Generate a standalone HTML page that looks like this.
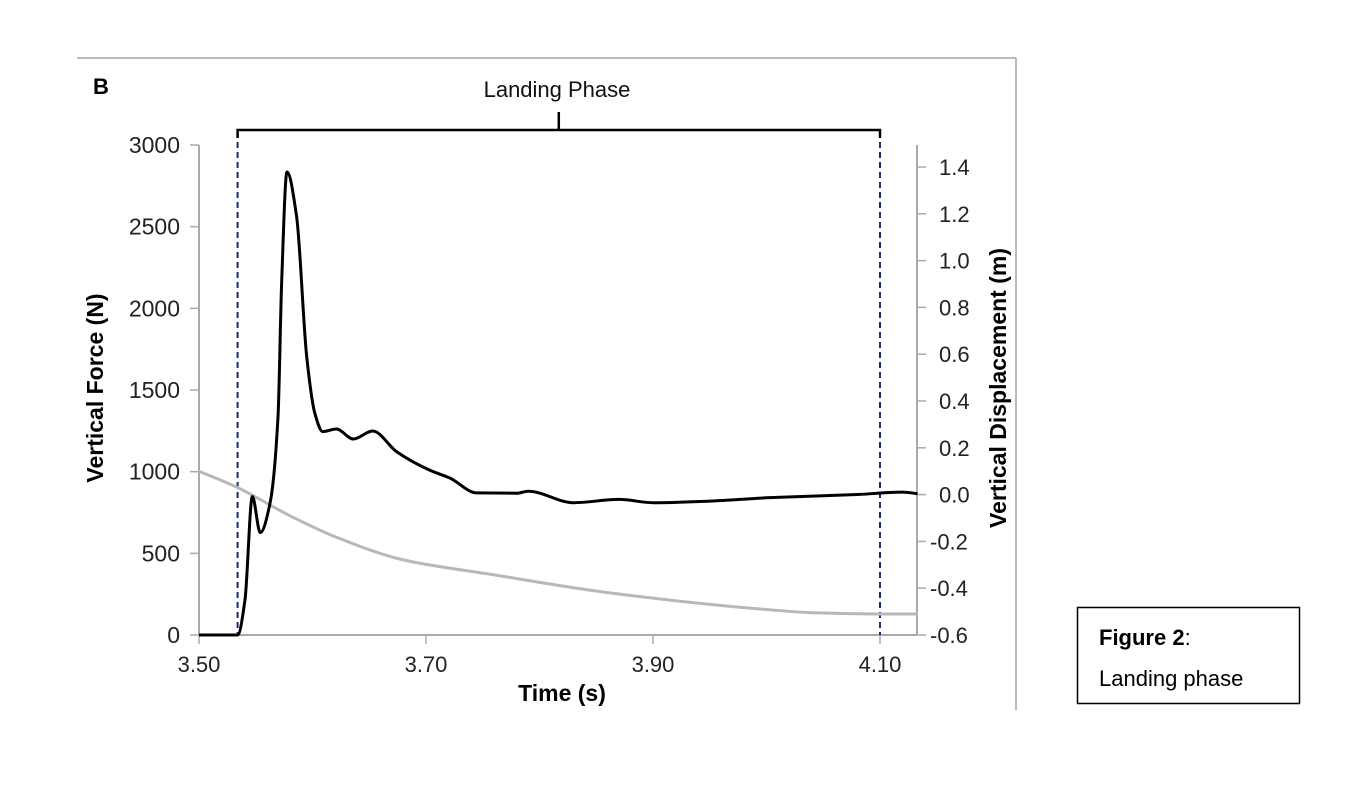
<!DOCTYPE html>
<html><head><meta charset="utf-8"><style>
body{margin:0;background:#fff;}
svg text{font-family:"Liberation Sans",Arial,sans-serif;}
</style></head><body>
<svg width="1370" height="798" xmlns="http://www.w3.org/2000/svg">
<g id="frame">
<line x1="77" y1="58" x2="1016" y2="58" stroke="#bbb" stroke-width="2"/>
<line x1="1016" y1="58" x2="1016" y2="710" stroke="#bbb" stroke-width="2"/>
</g>
<text x="93" y="94" font-size="22" font-weight="bold">B</text>
<text x="557" y="97" font-size="22" text-anchor="middle" fill="#111">Landing Phase</text>
<g id="axes"></g>
<g id="series"></g>
<text transform="translate(103,388) rotate(-90)" font-size="23" font-weight="bold" text-anchor="middle">Vertical Force (N)</text>
<text transform="translate(1006,388) rotate(-90)" font-size="23" font-weight="bold" text-anchor="middle">Vertical Displacement (m)</text>
<text x="562" y="701" font-size="23" font-weight="bold" text-anchor="middle">Time (s)</text>
<g>
<rect x="1077.5" y="607.5" width="222" height="96" fill="none" stroke="#000" stroke-width="1.5"/>
<text x="1099" y="645" font-size="22" font-family="Calibri,'Liberation Sans',sans-serif"><tspan font-weight="bold">Figure 2</tspan>:</text>
<text x="1099" y="686" font-size="22">Landing phase</text>
</g>
</svg>
<script>
const xTicks=[3.50,3.70,3.90,4.10];
const xTickLabels=["3.50","3.70","3.90","4.10"];
const forceTicks=[0,500,1000,1500,2000,2500,3000];
const dispTicks=[-0.6,-0.4,-0.2,0.0,0.2,0.4,0.6,0.8,1.0,1.2,1.4];
const phaseBounds=[3.534,4.10];
const forceTime=[3.50,3.534,3.5405,3.547,3.554,3.5626,3.5696,3.5728,3.5775,3.586,3.5949,3.602,3.609,3.621,3.636,3.653,3.674,3.703,3.721,3.7447,3.78,3.79,3.83,3.87,3.90,3.95,4.00,4.08,4.12,4.133];
const forceVals=[0,0,214,847,627,808,1335,2155,2835,2562,1704,1359,1245,1261,1200,1249,1123,1010,961,870,868,880,810,830,810,820,840,860,875,865];
const dispTime=[3.50,3.534,3.58,3.62,3.681,3.756,3.862,3.997,4.042,4.10,4.133];
const dispVals=[0.10,0.03,-0.09,-0.18,-0.28,-0.34,-0.42,-0.49,-0.505,-0.51,-0.51];

const NS="http://www.w3.org/2000/svg";
const X0=199,X1=917,T0=3.50,PXS=1135;
const x=t=>X0+(t-T0)*PXS;
const yF=v=>635-v*0.16333;
const yD=v=>635-(v+0.6)*234;
function mk(tag,attrs,parent){const e=document.createElementNS(NS,tag);for(const k in attrs)e.setAttribute(k,attrs[k]);parent.appendChild(e);return e;}
const ax=document.getElementById('axes'),se=document.getElementById('series');
let e;
e=mk('line',{x1:X0,y1:145,x2:X0,y2:635,stroke:'#aaa','stroke-width':2},ax);


e=mk('line',{x1:X1,y1:145,x2:X1,y2:635,stroke:'#aaa','stroke-width':2},ax);


e=mk('line',{x1:X0,y1:635,x2:X1,y2:635,stroke:'#aaa','stroke-width':2},ax);


forceTicks.forEach(v=>{
 mk('line',{x1:X0-9,y1:yF(v),x2:X0,y2:yF(v),stroke:'#aaa','stroke-width':1.5},ax);
 e=mk('text',{x:X0-19,y:yF(v)+8,'font-size':23,'text-anchor':'end',fill:'#222'},ax);
 e.textContent=String(v);
 
 
});
dispTicks.forEach(v=>{
 mk('line',{x1:X1,y1:yD(v),x2:X1+9,y2:yD(v),stroke:'#aaa','stroke-width':1.5},ax);
 e=mk('text',{x:v<0?X1+13:X1+22,y:yD(v)+8,'font-size':22,fill:'#222'},ax);
 e.textContent=v.toFixed(1);
 
 
});
xTicks.forEach((t,i)=>{
 mk('line',{x1:x(t),y1:635,x2:x(t),y2:644,stroke:'#aaa','stroke-width':1.5},ax);
 e=mk('text',{x:x(t),y:672,'font-size':22,'text-anchor':'middle',fill:'#222'},ax);
 e.textContent=xTickLabels[i];
 
 
});
phaseBounds.forEach(t=>{
 e=mk('line',{x1:x(t),y1:132,x2:x(t),y2:635,stroke:'#1a2a6c','stroke-width':2,'stroke-dasharray':'6,4'},se);
 
 
});
const bx0=x(phaseBounds[0]),bx1=x(phaseBounds[1]),bm=(bx0+bx1)/2;
e=mk('path',{d:`M${bx0},138 V130 H${bx1} V138 M${bm},130 V112`,fill:'none',stroke:'#000','stroke-width':2.5},se);


// monotone cubic (Fritsch-Carlson) to avoid overshoot
function monotone(px){
 const n=px.length,dx=[],s=[],m=[];
 for(let i=0;i<n-1;i++){dx[i]=px[i+1][0]-px[i][0];s[i]=(px[i+1][1]-px[i][1])/dx[i];}
 m[0]=s[0];m[n-1]=s[n-2];
 for(let i=1;i<n-1;i++){m[i]=(s[i-1]*s[i]<=0)?0:3*(dx[i-1]+dx[i])/((2*dx[i]+dx[i-1])/s[i-1]+(dx[i]+2*dx[i-1])/s[i]);}
 let d=`M${px[0][0]},${px[0][1]}`;
 for(let i=0;i<n-1;i++){const h=dx[i]/3;d+=` C${px[i][0]+h},${px[i][1]+m[i]*h} ${px[i+1][0]-h},${px[i+1][1]-m[i+1]*h} ${px[i+1][0]},${px[i+1][1]}`;}
 return d;
}
e=mk('path',{d:monotone(dispTime.map((t,i)=>[x(t),yD(dispVals[i])])),fill:'none',stroke:'#b8b8b8','stroke-width':3},se);


e=mk('path',{d:monotone(forceTime.map((t,i)=>[x(t),yF(forceVals[i])])),fill:'none',stroke:'#000','stroke-width':3,'stroke-linejoin':'round'},se);


</script>
</body></html>
